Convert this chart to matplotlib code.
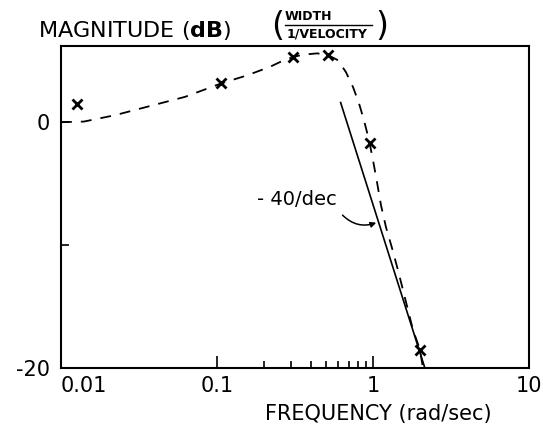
import numpy as np
import matplotlib.pyplot as plt
from matplotlib.ticker import FixedLocator, NullFormatter
from matplotlib.lines import Line2D

# dashed response curve
freq_curve = [0.01, 0.014, 0.0222, 0.0623, 0.106, 0.155, 0.218, 0.264, 0.308, 0.356,
              0.44, 0.517, 0.5965, 0.671, 0.745, 0.813, 0.875, 0.943, 1.0, 1.061,
              1.125, 1.211, 1.324, 1.445, 1.557, 1.676, 1.805, 2.0, 2.09]
db_curve = [0.0, 0.05, 0.57, 2.06, 3.15, 3.8, 4.5, 5.0, 5.3, 5.5,
            5.6, 5.45, 5.04, 4.07, 2.85, 1.54, 0.16, -1.46, -3.09, -4.88,
            -6.75, -8.54, -10.24, -12.03, -13.66, -15.28, -16.91, -18.5, -20.0]

# measured points (x marks)
freq_meas = [0.0127, 0.106, 0.308, 0.517, 0.957, 2.0]
db_meas = [1.5, 3.15, 5.3, 5.45, -1.68, -18.5]

# -40 dB/dec asymptote
freq_asym = [0.62, 2.15]
db_asym = [1.6, -20.0]

xtick_vals = [0.01, 0.1, 1, 10]
xtick_labels = ['0.01', '0.1', '1', '10']
xminor_vals = [0.2, 0.3, 0.4, 0.5, 0.6, 0.7, 0.8, 0.9]
ytick_vals = [-20, -10, 0]
ytick_labels = ['-20', '', '0']

W, H = 543, 424
fig = plt.figure(figsize=(W / 100, H / 100), dpi=100)
ax = fig.add_axes([61 / W, 1 - 368 / H, (529 - 61) / W, (368 - 46) / H])


def fx(px):
    return px / W


def fy(py):
    return 1 - py / H


ax.plot(freq_curve, db_curve, color='black', lw=1.3, dashes=(6, 5))
ax.plot(freq_asym, db_asym, color='black', lw=1.2)
ax.plot(freq_meas, db_meas, 'x', color='black', ms=7, mew=2)

ax.set_xscale('log')
ax.set_xlim(0.01, 10)
ax.set_ylim(-20, 6.2)

ax.set_xticks(xtick_vals)
ax.set_xticklabels(xtick_labels, fontsize=15)
ax.xaxis.set_minor_locator(FixedLocator(xminor_vals))
ax.xaxis.set_minor_formatter(NullFormatter())
ax.tick_params(axis='x', which='major', direction='in', length=9, width=1.2, pad=6)
ax.tick_params(axis='x', which='minor', direction='in', length=5, width=1.2)
ax.get_xticklabels()[0].set_ha('left')

ax.set_yticks(ytick_vals)
ax.set_yticklabels(ytick_labels, fontsize=15)
ax.tick_params(axis='y', direction='in', length=6, width=1.2, pad=8)

for s in ax.spines.values():
    s.set_linewidth(1.5)

# titles
fig.text(fx(38), fy(30), r'MAGNITUDE ($\mathbf{dB}$)', fontsize=16, va='center', ha='left')

fig.text(fx(278), fy(26), '(', fontsize=24, va='center', ha='center')
fig.text(fx(382), fy(26), ')', fontsize=24, va='center', ha='center')
fig.text(fx(285), fy(17), 'WIDTH', fontsize=9, va='center', ha='left', fontweight='bold')
fig.text(fx(287), fy(34), '1/VELOCITY', fontsize=9, va='center', ha='left', fontweight='bold')
fig.add_artist(Line2D([fx(285), fx(372)], [fy(25), fy(25)], color='black', lw=1.0))

fig.text(fx(378), fy(414), 'FREQUENCY (rad/sec)', fontsize=15, va='center', ha='center')

ax.annotate('- 40/dec', xy=(1.08, -8.1), xytext=(0.18, -6.3),
            fontsize=14, va='center', ha='left')
ax.annotate('', xy=(1.09, -8.1), xytext=(0.62, -7.4),
            arrowprops=dict(arrowstyle='-|>', color='black', lw=1.1,
                            connectionstyle='arc3,rad=0.35', mutation_scale=8))

fig.savefig('out.png', dpi=100)
